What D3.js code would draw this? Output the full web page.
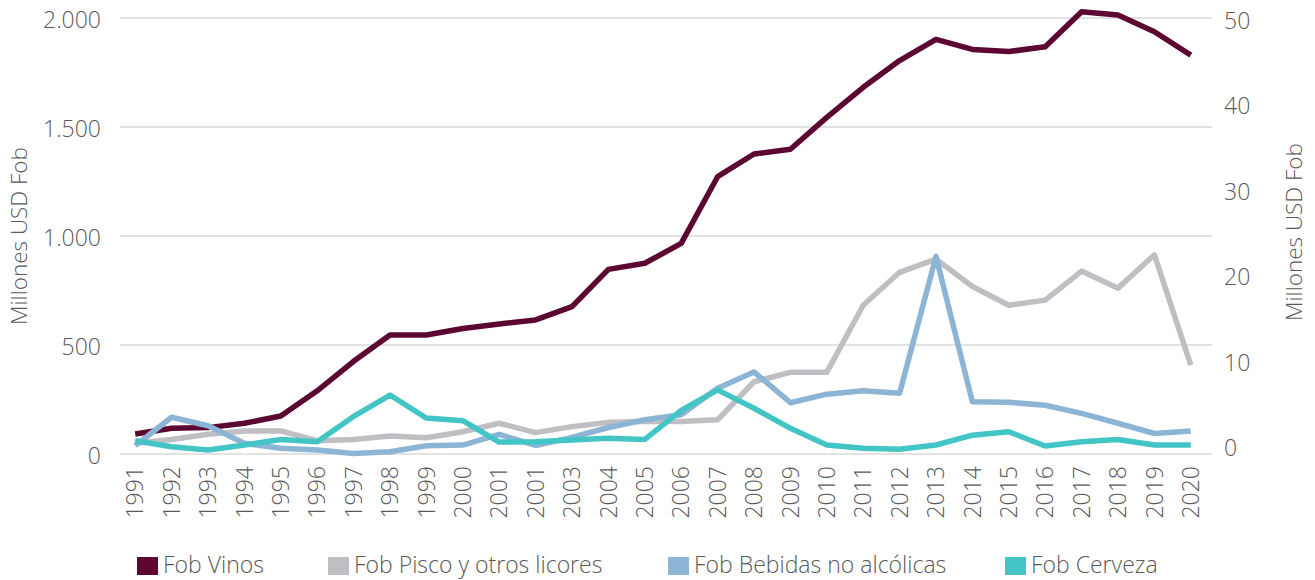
<!DOCTYPE html>
<html>
<head>
<meta charset="utf-8">
<script src="https://cdn.jsdelivr.net/npm/d3@7"></script>
<style>
  body { margin: 0; background: #fff; }
  text { font-family: "Open Sans", sans-serif; fill: #595959; }
</style>
</head>
<body>
<svg width="1315" height="580"></svg>
<script>
// years as printed on the chart (2001 appears twice in the original)
var years = ["1991","1992","1993","1994","1995","1996","1997","1998","1999","2000",
  "2001","2001","2003","2004","2005","2006","2007","2008","2009","2010",
  "2011","2012","2013","2014","2015","2016","2017","2018","2019","2020"];

// left axis, millones USD fob
var vinos = [92,118,121,141,174,290,425,546,546,576,596,615,676,847,875,966,1272,1376,1398,1544,
  1682,1805,1902,1856,1846,1868,2029,2014,1937,1830];

// right axis, millones USD fob
var pisco = [1.25,1.7,2.3,2.7,2.7,1.55,1.7,2.1,1.9,2.6,3.6,2.5,3.2,3.7,3.8,3.8,4.0,8.45,9.55,9.55,
  17.4,21.25,22.8,19.6,17.4,18.0,21.4,19.4,23.3,10.4];
var bebidas = [0.97,4.3,3.3,1.25,0.67,0.47,0.05,0.27,0.97,1.05,2.3,1.0,1.95,3.1,4.0,4.6,7.7,9.6,6.0,7.0,
  7.4,7.1,23.1,6.1,6.05,5.7,4.75,3.6,2.4,2.7];
var cerveza = [1.55,0.85,0.47,1.05,1.7,1.44,4.4,6.9,4.2,3.9,1.4,1.44,1.64,1.84,1.7,5.1,7.5,5.35,3.0,1.05,
  0.67,0.55,1.05,2.2,2.6,0.94,1.44,1.7,1.05,1.05];

var leftTicks = [0, 500, 1000, 1500, 2000];
var rightTicks = [0, 10, 20, 30, 40, 50];

var series = [
  { name: "Fob Vinos", values: vinos, axis: "left", color: "#5c0632" },
  { name: "Fob Pisco y otros licores", values: pisco, axis: "right", color: "#bfbfc3" },
  { name: "Fob Bebidas no alcólicas", values: bebidas, axis: "right", color: "#8cb4d5" },
  { name: "Fob Cerveza", values: cerveza, axis: "right", color: "#44c5c5" }
];

var svg = d3.select("svg");
var plotLeft = 120, plotRight = 1212, plotTop = 18, plotBottom = 454;

var x = d3.scaleBand()
  .domain(d3.range(years.length))
  .range([plotLeft - 3, plotRight - 3]);

var yLeft = d3.scaleLinear().domain([0, 2000]).range([plotBottom, plotTop]);
var yRight = d3.scaleLinear().domain([0, 51]).range([plotBottom, plotTop]);

// gridlines
svg.append("g")
  .selectAll("line")
  .data(leftTicks)
  .enter().append("line")
  .attr("x1", plotLeft).attr("x2", plotRight)
  .attr("y1", function(d) { return yLeft(d); })
  .attr("y2", function(d) { return yLeft(d); })
  .attr("stroke", "#d9d9d9")
  .attr("stroke-width", 1.5);

// left axis
var leftAxis = svg.append("g")
  .attr("transform", "translate(" + (plotLeft - 19) + ",0)")
  .call(d3.axisLeft(yLeft).tickValues(leftTicks).tickSize(0)
    .tickFormat(function(d) { return d3.format(",")(d).replace(/,/g, "."); }));
leftAxis.select(".domain").remove();
leftAxis.selectAll("text")
  .attr("x", 0).attr("dy", "0.4em")
  .style("font-size", "23px").style("font-weight", 300).style("fill", "#595959");

// right axis (labels sit slightly above the gridlines in the original)
var rightAxis = svg.append("g")
  .attr("transform", "translate(" + (plotRight + 12) + ",0)")
  .call(d3.axisRight(yRight).tickValues(rightTicks).tickSize(0));
rightAxis.select(".domain").remove();
rightAxis.selectAll("text")
  .attr("x", 0).attr("dy", "0.08em")
  .style("font-size", "23px").style("font-weight", 300).style("fill", "#595959");

// x axis labels, rotated
var xAxis = svg.append("g")
  .attr("transform", "translate(0," + (plotBottom + 12) + ")")
  .call(d3.axisBottom(x).tickSize(0).tickFormat(function(i) { return years[i]; }));
xAxis.select(".domain").remove();
xAxis.selectAll("text")
  .attr("transform", "rotate(-90)")
  .attr("x", 0).attr("y", 0)
  .attr("dy", "0.36em")
  .style("text-anchor", "end")
  .style("font-size", "23px").style("font-weight", 300).style("fill", "#595959");

// axis titles
svg.append("text")
  .attr("transform", "translate(27,236) rotate(-90)")
  .attr("text-anchor", "middle")
  .style("font-size", "22.5px").style("font-weight", 300)
  .text("Millones USD Fob");
svg.append("text")
  .attr("transform", "translate(1302,232) rotate(-90)")
  .attr("text-anchor", "middle")
  .style("font-size", "22.5px").style("font-weight", 300)
  .text("Millones USD Fob");

// lines
series.forEach(function(s) {
  var yS = s.axis === "left" ? yLeft : yRight;
  var line = d3.line()
    .x(function(d, i) { return x(i) + x.bandwidth() / 2; })
    .y(function(d) { return yS(d); });
  svg.append("path")
    .datum(s.values)
    .attr("d", line)
    .attr("fill", "none")
    .attr("stroke", s.color)
    .attr("stroke-width", 5.5)
    .attr("stroke-linejoin", "round");
});

// legend
var legendX = [137, 328, 668, 1005];
var legend = svg.append("g")
  .selectAll("g")
  .data(series)
  .enter().append("g")
  .attr("transform", function(d, i) { return "translate(" + legendX[i] + ",557)"; });
legend.append("rect")
  .attr("width", 21).attr("height", 18)
  .attr("fill", function(d) { return d.color; });
legend.append("text")
  .attr("x", 26).attr("y", 8).attr("dy", "0.36em")
  .style("font-size", "23px").style("font-weight", 300)
  .text(function(d) { return d.name; });
</script>
</body>
</html>
